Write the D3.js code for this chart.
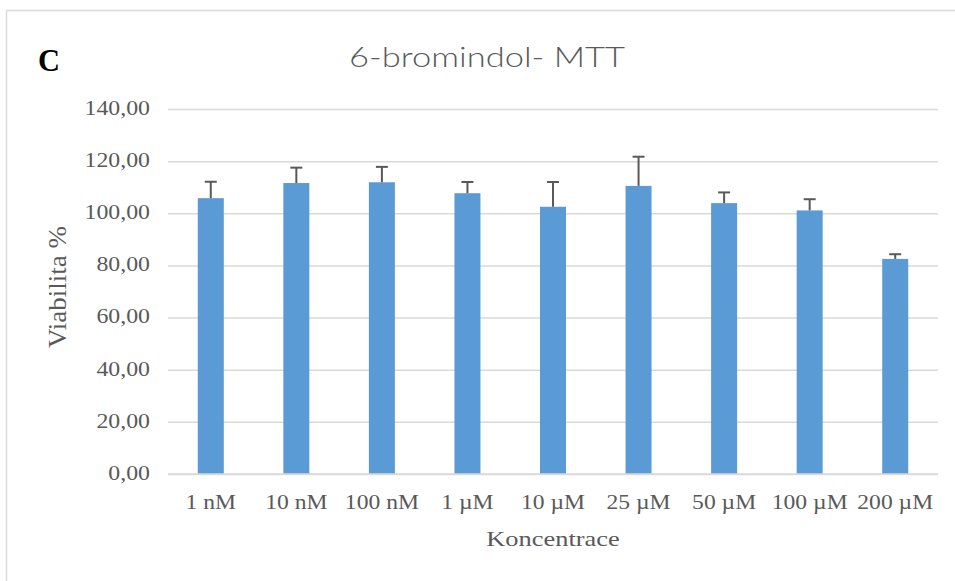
<!DOCTYPE html>
<html>
<head>
<meta charset="utf-8">
<script src="https://cdn.jsdelivr.net/npm/d3@7"></script>
<style>
  html, body { margin: 0; padding: 0; background: #fff; }
  svg { display: block; }
</style>
</head>
<body>
<svg id="chart" width="955" height="581"></svg>
<script>
// ---- data ----
const categories = ["1 nM", "10 nM", "100 nM", "1 µM", "10 µM", "25 µM", "50 µM", "100 µM", "200 µM"];
const viability = [105.8, 111.6, 111.9, 107.7, 102.5, 110.5, 103.9, 101.1, 82.5];
const errors = [6.3, 5.9, 5.9, 4.3, 9.5, 11.2, 4.1, 4.3, 1.8];
const yTicks = [0, 20, 40, 60, 80, 100, 120, 140];
const titleText = "6-bromindol- MTT";
const panelLabel = "C";
const xTitle = "Koncentrace";
const yTitle = "Viabilita %";

// ---- layout ----
const W = 955, H = 581;
const plot = { left: 168, right: 938, top: 109, bottom: 474 };
const gray = "#595959", gridColor = "#D9D9D9", barColor = "#5B9BD5";
const serif = "'Liberation Serif', 'Times New Roman', serif";

const svg = d3.select("#chart");
svg.append("rect").attr("width", W).attr("height", H).attr("fill", "#fff");

// outer chart border (top & left visible)
svg.append("line").attr("x1", 6.5).attr("x2", W).attr("y1", 10.5).attr("y2", 10.5)
  .attr("stroke", gridColor).attr("stroke-width", 1.5);
svg.append("line").attr("x1", 6.5).attr("x2", 6.5).attr("y1", 10.5).attr("y2", H)
  .attr("stroke", gridColor).attr("stroke-width", 1.5);

const x = d3.scaleBand().domain(categories).range([plot.left, plot.right])
  .paddingInner(0.696).paddingOuter(0.348);
const y = d3.scaleLinear().domain([0, 140]).range([plot.bottom, plot.top]);

// stretch helper: widen text horizontally by factor sx
function stretch(sel, sx) {
  sel.each(function() {
    const w = this.getComputedTextLength();
    d3.select(this).attr("textLength", w * sx).attr("lengthAdjust", "spacingAndGlyphs");
  });
}

// gridlines via axis
const fmt = v => d3.format(".2f")(v).replace(".", ",");
const yAxis = d3.axisLeft(y).tickValues(yTicks).tickSize(-(plot.right - plot.left)).tickFormat(fmt).tickPadding(18);
const gy = svg.append("g").attr("transform", `translate(${plot.left},0)`).call(yAxis);
gy.select(".domain").remove();
gy.selectAll(".tick line").attr("stroke", gridColor).attr("stroke-width", 1.5);
gy.selectAll(".tick text")
  .attr("fill", gray).attr("font-family", serif).attr("font-size", 20)
  .attr("dy", "0.27em");
stretch(gy.selectAll(".tick text"), 1.19);

// bars
svg.append("g").selectAll("rect").data(categories).join("rect")
  .attr("x", d => x(d))
  .attr("width", x.bandwidth())
  .attr("y", (d, i) => y(viability[i]))
  .attr("height", (d, i) => y(0) - y(viability[i]))
  .attr("fill", barColor);

// error bars (upper only)
const eg = svg.append("g").attr("stroke", gray).attr("stroke-width", 2).attr("fill", "none");
categories.forEach((c, i) => {
  const cx = x(c) + x.bandwidth() / 2;
  const top = y(viability[i] + errors[i]);
  eg.append("line").attr("x1", cx).attr("x2", cx).attr("y1", y(viability[i])).attr("y2", top);
  eg.append("line").attr("x1", cx - 6).attr("x2", cx + 6).attr("y1", top).attr("y2", top);
});

// x axis
const xAxis = d3.axisBottom(x).tickSize(0).tickPadding(0);
const gx = svg.append("g").attr("transform", `translate(0,${plot.bottom})`).call(xAxis);
gx.select(".domain").attr("stroke", gridColor).attr("stroke-width", 1.5)
  .attr("d", `M${plot.left},0H${plot.right}`);
gx.selectAll(".tick text")
  .attr("fill", gray).attr("font-family", serif).attr("font-size", 20)
  .attr("dy", null).attr("y", 35);
stretch(gx.selectAll(".tick text"), 1.18);

// axis titles
const xt = svg.append("text").attr("x", (plot.left + plot.right) / 2).attr("y", 546)
  .attr("text-anchor", "middle").attr("fill", gray).attr("font-family", serif).attr("font-size", 22)
  .text(xTitle);
stretch(xt, 1.2);

const yt = svg.append("text").attr("transform", "translate(66,287) rotate(-90)")
  .attr("text-anchor", "middle").attr("fill", gray).attr("font-family", serif).attr("font-size", 25)
  .text(yTitle);
stretch(yt, 1.08);

// title
const tt = svg.append("text").attr("x", 487).attr("y", 67)
  .attr("text-anchor", "middle").attr("fill", gray)
  .attr("font-family", "Lato, 'Open Sans', sans-serif").attr("font-weight", 300).attr("font-size", 28)
  .text(titleText);
tt.attr("textLength", 276).attr("lengthAdjust", "spacingAndGlyphs");

// panel label
svg.append("text").attr("x", 38).attr("y", 71)
  .attr("fill", "#000").attr("font-family", serif).attr("font-weight", "bold").attr("font-size", 32)
  .attr("textLength", 22).attr("lengthAdjust", "spacingAndGlyphs")
  .text(panelLabel);
</script>
</body>
</html>
